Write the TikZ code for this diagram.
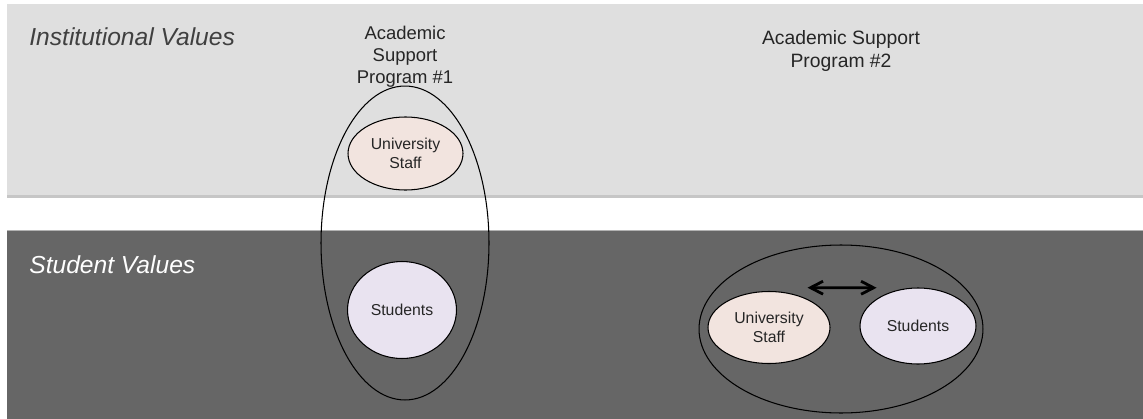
\documentclass[tikz,border=0pt]{standalone}
\usepackage{fontspec}
\setmainfont{Liberation Sans}
\usetikzlibrary{shapes.geometric,arrows.meta}

\definecolor{instgray}{HTML}{DFDFDF}
\definecolor{studgray}{HTML}{666666}
\definecolor{staffpink}{HTML}{F2E4DF}
\definecolor{studlilac}{HTML}{E9E3F0}

\tikzset{
    band/.style={draw=none},
    bandtitle/.style={anchor=base west, inner sep=0pt,
        font=\fontsize{14}{16}\selectfont\itshape},
    proglabel/.style={align=center, inner sep=0pt,
        text=black!85},
    program/.style={ellipse, draw=black, line width=.6pt,
        inner sep=0pt},
    bubble/.style={ellipse, draw=black, line width=.6pt,
        inner sep=0pt, align=center, text=black!85,
        font=\fontsize{9}{10.5}\selectfont},
}

\begin{document}
\begin{tikzpicture}[x=0.02cm, y=-0.02cm]
    \useasboundingbox (0,0) rectangle (1143,419);

    % Value bands
    \fill[gray!45] (7,195) rectangle (1143,198);
    \fill[instgray] (7,4) rectangle (1143,195);
    \fill[studgray] (7,230) rectangle (1143,419);
    \draw[gray!60] (7,230.5) -- (1143,230.5);

    \node[bandtitle, text=black!75] (inst)
        at (29,45) {Institutional Values};
    \node[bandtitle, text=white] (stud)
        at (29,273) {Student Values};

    % Program #1
    \node[proglabel, font=\fontsize{10.5}{12.5}\selectfont]
        (labelA) at (405,57)
        {Academic\\Support\\Program \#1};
    \node[program, minimum width=3.36cm,
        minimum height=6.28cm] (progA) at (405,243) {};
    \node[bubble, fill=staffpink, minimum width=2.3cm,
        minimum height=1.46cm] (staffA) at (405.5,153.5)
        {University\\Staff};
    \node[bubble, fill=studlilac, minimum width=2.18cm,
        minimum height=1.94cm] (pupilsA) at (402,310)
        {Students};

    % Program #2
    \node[proglabel, font=\fontsize{11}{13}\selectfont]
        (labelB) at (841,51)
        {Academic Support\\Program \#2};
    \node[program, minimum width=5.68cm,
        minimum height=3.36cm] (progB) at (841,329) {};
    \node[bubble, fill=staffpink, minimum width=2.44cm,
        minimum height=1.44cm] (staffB) at (769,327.5)
        {University\\Staff};
    \node[bubble, fill=studlilac, minimum width=2.32cm,
        minimum height=1.52cm] (pupilsB) at (918,326)
        {Students};

    \draw[{Straight Barb[length=2.5mm,width=2.6mm]}-{Straight Barb[length=2.5mm,width=2.6mm]},
        line width=1.6pt]
        ([shift={(-.1cm,.28cm)}]staffB.north east) --
        ([yshift=.22cm]pupilsB.north west);

\end{tikzpicture}
\end{document}
